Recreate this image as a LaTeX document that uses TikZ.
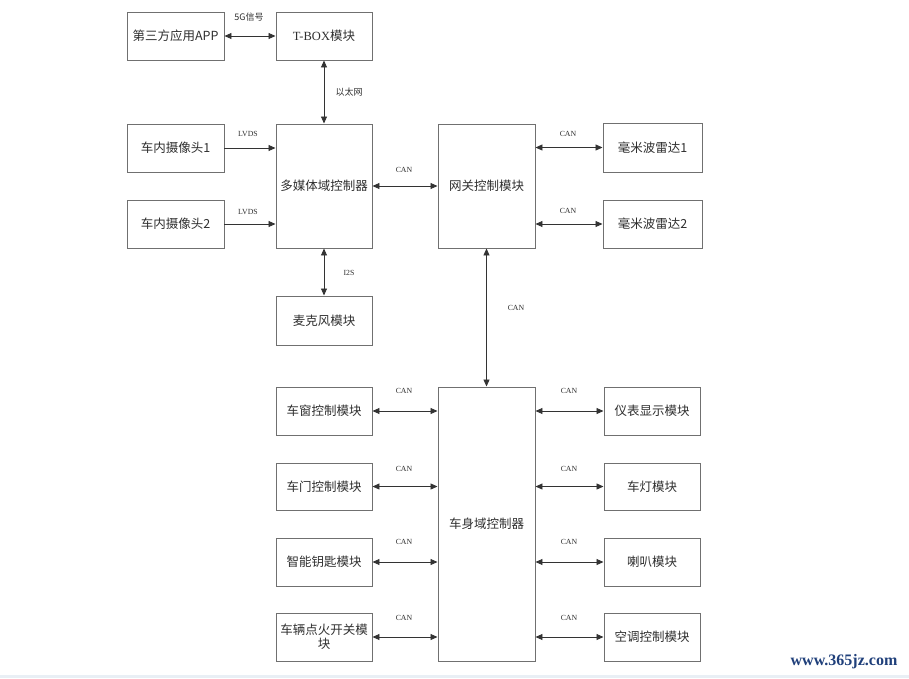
\documentclass[tikz,border=0pt]{standalone}
\usepackage{fontspec}
\setmainfont{Liberation Serif}
\newfontfamily\cjk{Noto Sans CJK SC}
\usetikzlibrary{arrows.meta}
\definecolor{boxline}{HTML}{707070}
\definecolor{txt}{HTML}{2E2E2E}
\definecolor{wm}{HTML}{1F3F7A}
\definecolor{strip}{HTML}{E9EFF5}
\tikzset{
  blk/.style={draw=boxline, line width=0.95pt, rectangle, inner sep=0pt, text=txt, font=\cjk\fontsize{12.5}{14}\selectfont, align=center},
  tip/.tip={Triangle[length=7pt,width=6pt]},
  link/.style={draw=black!80, line width=0.9pt, tip-tip},
  onelink/.style={draw=black!80, line width=0.9pt, -tip},
  lbl/.style={font=\fontsize{7.8}{8}\selectfont, text=txt, inner sep=0pt},
  clbl/.style={font=\cjk\fontsize{9}{10}\selectfont, text=txt, inner sep=0pt}
}
\begin{document}
\begin{tikzpicture}[x=1pt,y=-1pt]
\useasboundingbox (0,0) rectangle (909,678);
\fill[strip] (0,675) rectangle (909,678);
% boxes
\node[blk, minimum width=97pt, minimum height=48pt] (app) at (175.5,36) {第三方应用APP};
\node[blk, minimum width=96pt, minimum height=48pt] (tbox) at (324,36) {{\rmfamily T-BOX}模块};
\node[blk, minimum width=97pt, minimum height=48pt] (cam1) at (175.5,148) {车内摄像头1};
\node[blk, minimum width=97pt, minimum height=48pt] (cam2) at (175.5,224) {车内摄像头2};
\node[blk, minimum width=96pt, minimum height=124pt] (mm) at (324,186) {多媒体域控制器};
\node[blk, minimum width=96pt, minimum height=49pt] (mic) at (324,320.5) {麦克风模块};
\node[blk, minimum width=97pt, minimum height=124pt] (gw) at (486.5,186) {网关控制模块};
\node[blk, minimum width=99pt, minimum height=49pt] (rad1) at (652.5,147.5) {毫米波雷达1};
\node[blk, minimum width=99pt, minimum height=48pt] (rad2) at (652.5,224) {毫米波雷达2};
\node[blk, minimum width=97pt, minimum height=274pt] (body) at (486.5,524) {车身域控制器};
\node[blk, minimum width=96pt, minimum height=48pt] (win) at (324,411) {车窗控制模块};
\node[blk, minimum width=96pt, minimum height=47pt] (door) at (324,486.5) {车门控制模块};
\node[blk, minimum width=96pt, minimum height=48pt] (key) at (324,562) {智能钥匙模块};
\node[blk, minimum width=96pt, minimum height=48pt, text width=96pt, font=\cjk\fontsize{12.5}{14}\selectfont] (ign) at (324,637) {车辆点火开关模\\块};
\node[blk, minimum width=96pt, minimum height=48pt] (dash) at (652,411) {仪表显示模块};
\node[blk, minimum width=96pt, minimum height=47pt] (lamp) at (652,486.5) {车灯模块};
\node[blk, minimum width=96pt, minimum height=48pt] (horn) at (652,562) {喇叭模块};
\node[blk, minimum width=96pt, minimum height=48pt] (ac) at (652,637) {空调控制模块};
% connectors
\draw[link] (app.east) -- (tbox.west);
\node[clbl] (l5g) at (249,17) {5G信号};
\draw[link] (tbox.south) -- (mm.north);
\node[clbl] (leth) at (349,92) {以太网};
\draw[onelink] (cam1.east) -- (mm.west |- cam1.east);
\node[lbl] (llv1) at (248,134) {LVDS};
\draw[onelink] (cam2.east) -- (mm.west |- cam2.east);
\node[lbl] (llv2) at (248,212) {LVDS};
\draw[link] (mm.east) -- (gw.west);
\node[lbl] (lmg) at (404,170) {CAN};
\draw[link] (mm.south) -- (mic.north);
\node[lbl] (li2s) at (349,273) {I2S};
\draw[link] (gw.east |- rad1.west) -- (rad1.west);
\node[lbl] (lr1) at (568,134) {CAN};
\draw[link] (gw.east |- rad2.west) -- (rad2.west);
\node[lbl] (lr2) at (568,211) {CAN};
\draw[link] (gw.south) -- (body.north);
\node[lbl] (lgb) at (516,308) {CAN};
\foreach \n/\ly in {win/391, door/469, key/542, ign/618} {
  \draw[link] (\n.east) -- (body.west |- \n.east);
  \node[lbl] at (404,\ly) {CAN};
}
\foreach \n/\ly in {dash/391, lamp/469, horn/542, ac/618} {
  \draw[link] (body.east |- \n.west) -- (\n.west);
  \node[lbl] at (569,\ly) {CAN};
}
\node[font=\bfseries\fontsize{16}{17}\selectfont, text=wm, inner sep=0pt] (wmk) at (844,662) {www.365jz.com};
\end{tikzpicture}
\end{document}
